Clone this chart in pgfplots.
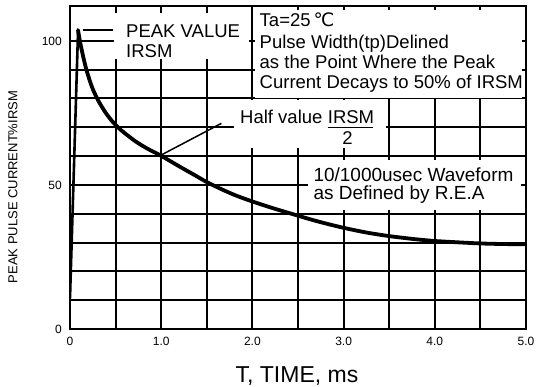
\documentclass[border=0pt]{standalone}
\usepackage{fontspec}
\setmainfont{Liberation Sans}
\newfontfamily\dejavu{DejaVu Sans}
\usepackage{pgfplots}
\pgfplotsset{compat=1.18}
\begin{document}
\begin{tikzpicture}
\path[use as bounding box] (0pt,0pt) rectangle (536pt,387pt);
% grid lines (0.5 ms and 10 % steps), snapped to whole points
\begin{scope}[x=1pt,y=1pt]
\foreach \gx in {116,161,207,252,298,344,389,435,480} \draw[black, line width=1.4pt] (\gx,58) -- (\gx,381);
\foreach \gy in {87,116,144,173,202,231,260,289,317,346} \draw[black, line width=1.4pt] (70,\gy) -- (526,\gy);
\end{scope}
\begin{axis}[
  at={(70pt,58pt)}, anchor=south west,
  scale only axis, width=456pt, height=323pt,
  xmin=0, xmax=5, ymin=0, ymax=112.15,
  xtick={0,1,2,3,4,5},
  xticklabels={0,1.0,2.0,3.0,4.0,5.0},
  ytick={0,50,100},
  yticklabels={0,50,100},
  tick style={draw=none},
  axis line style={black, line width=2.3pt},
  tick label style={font=\fontsize{12}{14}\selectfont, inner sep=0pt},
  xticklabel style={anchor=north, yshift=-7.5pt},
  yticklabel style={anchor=east, xshift=-8pt},
  /pgf/number format/assume math mode=true,
  xlabel={T, TIME, ms},
  xlabel style={font=\fontsize{23}{26}\selectfont, at={(axis description cs:0.4978,-0.1657)}, anchor=base, inner sep=0pt},
  ylabel={PEAK PULSE CURRENT\%IRSM},
  ylabel style={font=\fontsize{13}{15}\selectfont, at={(axis description cs:-0.125,0.4396)}, anchor=center, inner sep=0pt},
]
% rising edge
\addplot[black, line width=2.6pt, line cap=round] coordinates {(0.0,10.7) (0.045,58) (0.088,103.3)};
% decay
\addplot[black, line width=3.8pt, line cap=round, line join=round, smooth] coordinates {
(0.088,103.8) (0.11,99.8) (0.14,95.2) (0.175,90.6) (0.21,86.9) (0.25,83.3)
(0.31,79.3) (0.38,75.6) (0.45,72.6) (0.53,69.9) (0.62,67.5) (0.73,64.9)
(0.85,62.6) (0.99,60.3) (1.12,57.9) (1.24,55.7) (1.38,53.2) (1.5,51.0)
(1.65,48.7) (1.8,46.6) (1.97,44.6) (2.2,42.2) (2.43,40.0) (2.7,37.5)
(2.99,35.2) (3.25,33.5) (3.49,32.3) (3.75,31.3) (3.98,30.6) (4.25,30.1)
(4.5,29.7) (4.75,29.5) (5.0,29.4)};
% half value pointer
\addplot[black, line width=1.5pt] coordinates {(1.0,60.4) (1.66,71.4)};
% peak marker
\addplot[black, line width=1.7pt] coordinates {(0.146,103.8) (0.475,103.8)};
\end{axis}
% white boxes behind annotations
\fill[white] (114pt,328pt) rectangle (249pt,374pt);
\fill[white] (255pt,288.5pt) rectangle (522pt,377pt);
\fill[white] (234pt,239pt) rectangle (386pt,287pt);
\fill[white] (308pt,177pt) rectangle (521pt,227pt);
% redraw frame
\draw[black, line width=2.3pt] (70pt,58pt) rectangle (526pt,381pt);
% annotations
\begin{scope}[every node/.style={inner sep=0pt, anchor=base west, font=\fontsize{18.5}{20.5}\selectfont}]
\node at (126pt,349.7pt) {PEAK VALUE};
\node at (126pt,329.7pt) {IRSM};
\node at (259.5pt,360.3pt) {Ta=25\,{\dejavu ℃}};
\node at (259.5pt,338.7pt) {Pulse Width(tp)Delined};
\node at (259.5pt,318.7pt) {as the Point Where the Peak};
\node at (259.5pt,298.7pt) {Current Decays to 50\% of IRSM};
\node at (240pt,263.7pt) {Half value};
\node at (327.7pt,263.7pt) {IRSM};
\node[anchor=base] at (347.5pt,242.7pt) {2};
\node[font=\fontsize{19}{21}\selectfont] at (313.3pt,205.3pt) {10/1000usec Waveform};
\node[font=\fontsize{19}{21}\selectfont] at (313.3pt,187pt) {as Defined by R.E.A};
\end{scope}
\draw[black, line width=1.3pt] (327.7pt,259.7pt) -- (373pt,259.7pt);
\end{tikzpicture}
\end{document}
